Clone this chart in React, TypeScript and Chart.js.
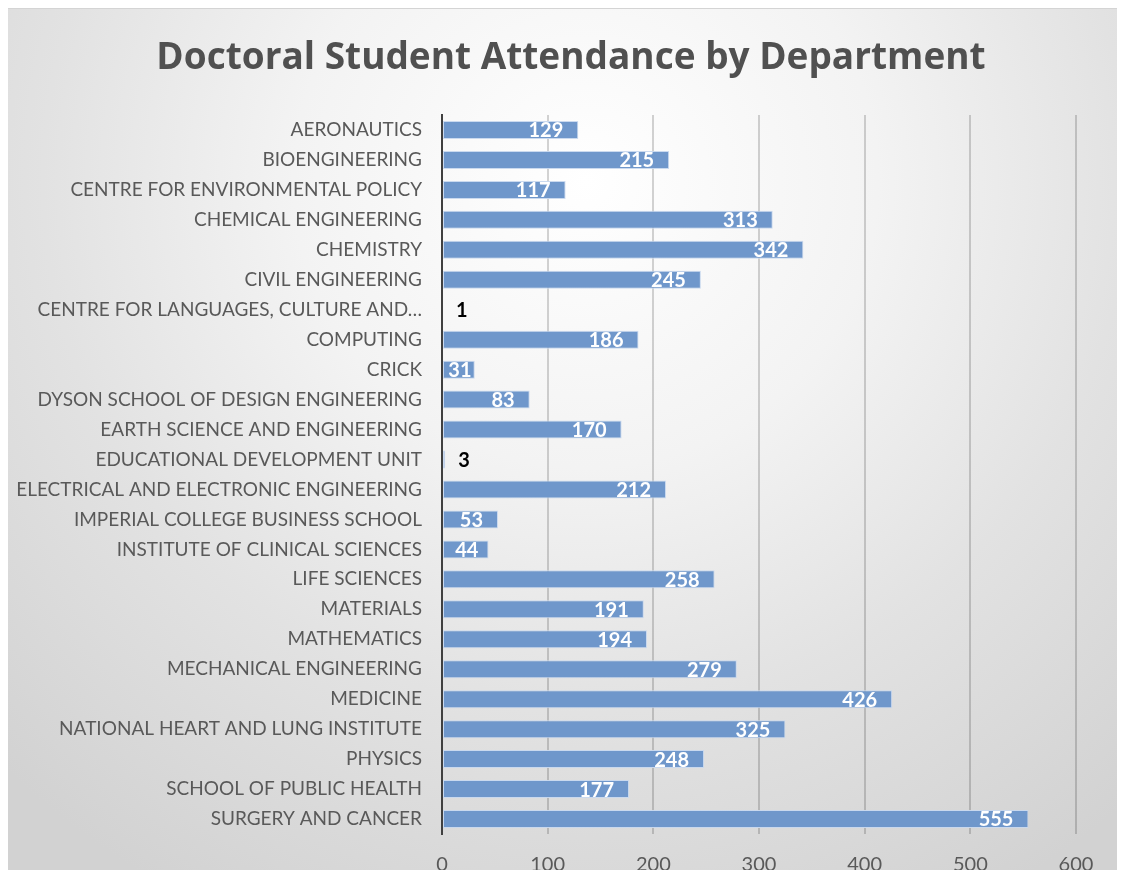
import React, { useEffect, useRef } from "react";
import { Chart, registerables } from "chart.js";

Chart.register(...registerables);

const chartTitle = "Doctoral Student Attendance by Department";

const departments: string[] = [
  "AERONAUTICS",
  "BIOENGINEERING",
  "CENTRE FOR ENVIRONMENTAL POLICY",
  "CHEMICAL ENGINEERING",
  "CHEMISTRY",
  "CIVIL ENGINEERING",
  "CENTRE FOR LANGUAGES, CULTURE AND…",
  "COMPUTING",
  "CRICK",
  "DYSON SCHOOL OF DESIGN ENGINEERING",
  "EARTH SCIENCE AND ENGINEERING",
  "EDUCATIONAL DEVELOPMENT UNIT",
  "ELECTRICAL AND ELECTRONIC ENGINEERING",
  "IMPERIAL COLLEGE BUSINESS SCHOOL",
  "INSTITUTE OF CLINICAL SCIENCES",
  "LIFE SCIENCES",
  "MATERIALS",
  "MATHEMATICS",
  "MECHANICAL ENGINEERING",
  "MEDICINE",
  "NATIONAL HEART AND LUNG INSTITUTE",
  "PHYSICS",
  "SCHOOL OF PUBLIC HEALTH",
  "SURGERY AND CANCER",
];

const attendance: number[] = [
  129, 215, 117, 313, 342, 245, 1, 186, 31, 83, 170, 3, 212, 53, 44, 258, 191,
  194, 279, 426, 325, 248, 177, 555,
];

const xTicks: number[] = [0, 100, 200, 300, 400, 500, 600];

const FONT = "Lato, 'Open Sans', sans-serif";

const valueLabelPlugin = {
  id: "valueLabels",
  afterDatasetsDraw(chart: any) {
    const ctx = chart.ctx;
    const meta = chart.getDatasetMeta(0);
    const data = chart.data.datasets[0].data as number[];
    ctx.save();
    ctx.font = `bold 20px ${FONT}`;
    ctx.textBaseline = "middle";
    meta.data.forEach((bar: any, i: number) => {
      const txt = String(data[i]);
      const w = ctx.measureText(txt).width;
      const barW = bar.x - bar.base;
      if (barW >= w + 30) {
        ctx.fillStyle = "#ffffff";
        ctx.textAlign = "right";
        ctx.fillText(txt, bar.x - 15, bar.y + 1);
      } else if (barW > w + 6) {
        ctx.fillStyle = "#ffffff";
        ctx.textAlign = "center";
        ctx.fillText(txt, (bar.x + bar.base) / 2 + 1, bar.y + 1);
      } else {
        ctx.fillStyle = "#000000";
        ctx.textAlign = "left";
        ctx.fillText(txt, bar.x + 13, bar.y + 1);
      }
    });
    ctx.restore();
  },
};

const titlePlugin = {
  id: "customTitle",
  afterDraw(chart: any) {
    const ctx = chart.ctx;
    ctx.save();
    ctx.font = `bold 37px 'Open Sans', Lato, sans-serif`;
    ctx.fillStyle = "#505050";
    ctx.textAlign = "center";
    ctx.textBaseline = "middle";
    ctx.fillText(chartTitle, 564, 49);
    ctx.restore();
  },
};

export default function App() {
  const canvasRef = useRef<HTMLCanvasElement | null>(null);

  useEffect(() => {
    const canvas = canvasRef.current;
    if (!canvas) return;
    const chart = new Chart(canvas, {
      type: "bar",
      data: {
        labels: departments,
        datasets: [
          {
            data: attendance,
            backgroundColor: "#6f97cb",
            borderColor: "rgba(200,216,238,0.95)",
            borderWidth: 1,
            borderSkipped: false,
            categoryPercentage: 1,
            barPercentage: 0.6,
          },
        ],
      },
      options: {
        indexAxis: "y",
        animation: false,
        responsive: true,
        maintainAspectRatio: false,
        layout: { padding: { top: 106, right: 44, left: 0, bottom: 0 } },
        plugins: {
          legend: { display: false },
          tooltip: { enabled: false },
          title: { display: false },
        },
        scales: {
          x: {
            min: 0,
            max: 600,
            afterBuildTicks: (axis: any) => {
              axis.ticks = xTicks.map((v) => ({ value: v }));
            },
            grid: {
              color: "rgba(0,0,0,0.17)",
              lineWidth: 2,
              drawTicks: false,
            },
            border: { display: false },
            ticks: {
              color: "#595959",
              font: { family: FONT, size: 20 },
              padding: 19,
            },
          },
          y: {
            grid: { display: false, drawTicks: false },
            border: { display: true, color: "#404040", width: 2 },
            afterFit: (axis: any) => {
              axis.width = 435;
            },
            ticks: {
              color: "#595959",
              font: { family: FONT, size: 19 },
              padding: 20,
              autoSkip: false,
            },
          },
        },
      },
      plugins: [valueLabelPlugin, titlePlugin],
    });
    return () => chart.destroy();
  }, []);

  return (
    <div
      style={{
        marginLeft: -2,
        width: 1114,
        height: 862,
        overflow: "hidden",
        borderTop: "1px solid #d4d4d4",
        borderLeft: "1px solid #d4d4d4",
        boxSizing: "border-box",
        background:
          "radial-gradient(ellipse 75% 95% at 52% 20%, #ffffff 0%, #f3f3f3 35%, #e2e2e2 65%, #d2d2d2 100%)",
      }}
    >
      <div style={{ position: "relative", width: 1113, height: 887 }}>
        <canvas ref={canvasRef} />
      </div>
    </div>
  );
}
